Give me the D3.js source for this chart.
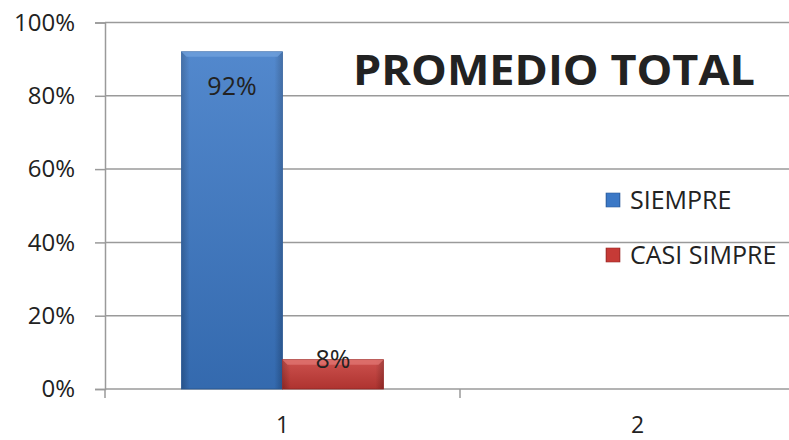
<!DOCTYPE html>
<html>
<head>
<meta charset="utf-8">
<script src="https://cdn.jsdelivr.net/npm/d3@7"></script>
<style>
  html, body { margin: 0; padding: 0; background: #fff; }
  svg { display: block; }
  text { font-family: "Open Sans", "Liberation Sans", sans-serif; fill: #222; }
</style>
</head>
<body>
<div id="chart"></div>
<script>
// Chart data
const categories = ['1', '2'];
const seriesNames = ['SIEMPRE', 'CASI SIMPRE'];
const siempre = [0.92, null];
const casiSimpre = [0.08, null];
const yTicks = [0, 0.2, 0.4, 0.6, 0.8, 1.0];
const title = 'PROMEDIO TOTAL';

(function () {
  const W = 789, H = 440;
  const M = { left: 105, right: -26, top: 22.5, bottom: 51 };
  const colors = {
    'SIEMPRE': { base: '#3b78c6', dark: '#2c5d9c', light: '#6fa0dc' },
    'CASI SIMPRE': { base: '#c63a36', dark: '#9c2b28', light: '#e07470' }
  };

  const svg = d3.select('#chart').append('svg')
    .attr('width', W).attr('height', H);

  const defs = svg.append('defs');
  seriesNames.forEach((s, i) => {
    const c = colors[s];
    const g = defs.append('linearGradient').attr('id', 'grad' + i)
      .attr('x1', 0).attr('x2', 1).attr('y1', 0).attr('y2', 0);
    g.append('stop').attr('offset', '0%').attr('stop-color', c.dark);
    g.append('stop').attr('offset', '8%').attr('stop-color', c.base);
    g.append('stop').attr('offset', '92%').attr('stop-color', c.base);
    g.append('stop').attr('offset', '100%').attr('stop-color', c.dark);
    const v = defs.append('linearGradient').attr('id', 'vgrad' + i)
      .attr('x1', 0).attr('x2', 0).attr('y1', 0).attr('y2', 1);
    v.append('stop').attr('offset', '0%').attr('stop-color', '#fff').attr('stop-opacity', 0.12);
    v.append('stop').attr('offset', '100%').attr('stop-color', '#000').attr('stop-opacity', 0.12);
  });

  const x = d3.scaleBand().domain(categories)
    .range([M.left, W - M.right]).paddingInner(0).paddingOuter(0);
  const xSub = d3.scaleBand().domain(seriesNames)
    .range([0, x.bandwidth()]).paddingInner(0).paddingOuter(0.757);
  const y = d3.scaleLinear().domain([0, 1]).range([H - M.bottom, M.top]);

  // Gridlines
  svg.append('g').selectAll('line').data(yTicks.filter(d => d > 0)).join('line')
    .attr('x1', M.left).attr('x2', W)
    .attr('y1', d => y(d)).attr('y2', d => y(d))
    .attr('stroke', '#9a9a9a').attr('stroke-width', 1.5);

  // Y axis
  const yAxis = svg.append('g').attr('transform', `translate(${M.left},0)`)
    .call(d3.axisLeft(y).tickValues(yTicks).tickFormat(d3.format('.0%')).tickSize(10).tickPadding(20));
  yAxis.select('.domain').attr('stroke', '#9a9a9a').attr('stroke-width', 1.5);
  yAxis.selectAll('.tick line').attr('stroke', '#9a9a9a').attr('stroke-width', 1.5);
  yAxis.selectAll('.tick text').attr('font-size', 24).attr('fill', '#222')
    .attr('font-family', '"Open Sans", sans-serif');

  // X axis (ticks at category boundaries)
  const xAxisG = svg.append('g').attr('transform', `translate(0,${y(0)})`);
  xAxisG.append('line').attr('x1', M.left).attr('x2', W)
    .attr('stroke', '#9a9a9a').attr('stroke-width', 1.5);
  const bounds = categories.map(c => x(c)).concat([x(categories[categories.length - 1]) + x.bandwidth()]);
  xAxisG.selectAll('.bt').data(bounds).join('line').attr('class', 'bt')
    .attr('x1', d => d).attr('x2', d => d).attr('y1', 0).attr('y2', 9)
    .attr('stroke', '#9a9a9a').attr('stroke-width', 1.5);
  xAxisG.selectAll('.xl').data(categories).join('text').attr('class', 'xl')
    .attr('x', d => x(d) + x.bandwidth() / 2).attr('y', 44)
    .attr('text-anchor', 'middle').attr('font-size', 23).text(d => d);

  // Bars
  const seriesData = [siempre, casiSimpre];
  const rows = [];
  seriesNames.forEach((s, si) => {
    categories.forEach((c, ci) => {
      const v = seriesData[si][ci];
      if (v != null) rows.push({ s, si, c, v });
    });
  });

  const bars = svg.append('g').selectAll('g').data(rows).join('g');
  bars.append('rect')
    .attr('x', d => x(d.c) + xSub(d.s))
    .attr('y', d => y(d.v))
    .attr('width', xSub.bandwidth())
    .attr('height', d => y(0) - y(d.v))
    .attr('fill', d => `url(#grad${d.si})`)
    .attr('stroke', d => colors[d.s].dark).attr('stroke-width', 0.8);
  bars.append('rect')
    .attr('x', d => x(d.c) + xSub(d.s))
    .attr('y', d => y(d.v))
    .attr('width', xSub.bandwidth())
    .attr('height', d => y(0) - y(d.v))
    .attr('fill', d => `url(#vgrad${d.si})`);
  // top bevel
  bars.append('path')
    .attr('d', d => {
      const x0 = x(d.c) + xSub(d.s), x1 = x0 + xSub.bandwidth(), t = y(d.v), b = 5;
      return `M${x0},${t}L${x1},${t}L${x1 - b},${t + b}L${x0 + b},${t + b}Z`;
    })
    .attr('fill', d => colors[d.s].light).attr('opacity', 0.8);

  // Value labels
  bars.append('text')
    .attr('x', d => x(d.c) + xSub(d.s) + xSub.bandwidth() / 2)
    .attr('y', d => d.v > 0.5 ? y(d.v) + 43 : y(d.v) + 8)
    .attr('text-anchor', 'middle').attr('font-size', 25)
    .text(d => d3.format('.0%')(d.v));

  // Title
  svg.append('text').attr('x', 353).attr('y', 85)
    .attr('font-size', 41).attr('font-weight', 'bold').attr('fill', '#000')
    .attr('textLength', 402).attr('lengthAdjust', 'spacingAndGlyphs')
    .text(title);

  // Legend
  const leg = svg.append('g').selectAll('g').data(seriesNames).join('g')
    .attr('transform', (d, i) => `translate(606,${193 + i * 55})`);
  leg.append('rect').attr('width', 14).attr('height', 14)
    .attr('fill', (d, i) => `url(#grad${i})`)
    .attr('stroke', d => colors[d].dark).attr('stroke-width', 0.6);
  leg.append('text').attr('x', 24).attr('y', 16)
    .attr('font-size', 25).text(d => d);
})();
</script>
</body>
</html>
